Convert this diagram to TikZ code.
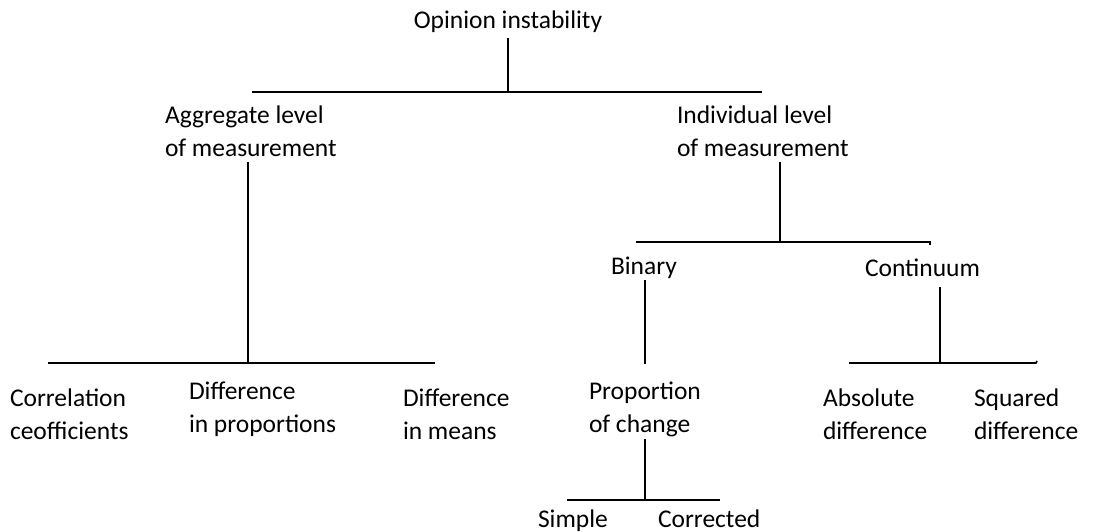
\documentclass[tikz,border=0pt]{standalone}
\usepackage{fontspec}
\setmainfont{Carlito}
\begin{document}
\begin{tikzpicture}[x=1pt,y=-1pt,
  lbl/.style={inner sep=0pt, outer sep=0pt, align=left, anchor=west, font=\fontsize{25.5}{33}\selectfont},
  conn/.style={line width=1.6pt, black}]
\useasboundingbox (0,0) rectangle (1095,532);
% texts
\node[lbl, anchor=center] (root) at (508,22) {Opinion instability};
\node[lbl] (agg) at (165,131) {Aggregate level\\of measurement};
\node[lbl] (ind) at (677,131) {Individual level\\of measurement};
\node[lbl] (corr) at (10,414) {Correlation\\ceofficients};
\node[lbl] (dprop) at (189,409) {Difference\\in proportions};
\node[lbl] (dmean) at (403,414) {Difference\\in means};
\node[lbl] (bin) at (611,268) {Binary};
\node[lbl] (cont) at (865,268) {Continuum};
\node[lbl] (pchg) at (589,409) {Proportion\\of change};
\node[lbl] (absd) at (823,414) {Absolute\\difference};
\node[lbl] (sqd) at (974,414) {Squared\\difference};
\node[lbl, anchor=base west] (simp) at (538,527) {Simple};
\node[lbl, anchor=base west] (corrd) at (658,527) {Corrected};
% junction coordinates
\coordinate (r0) at (508,38);   \coordinate (r1) at (508,92);
\coordinate (rL) at (252,92);   \coordinate (rR) at (762,92);
\coordinate (a0) at (248,162);  \coordinate (a1) at (248,363);
\coordinate (aL) at (48,363);   \coordinate (aR) at (435,363);
\coordinate (i0) at (780,162);  \coordinate (i1) at (780,242);
\coordinate (iL) at (636,242);  \coordinate (iR) at (930,242);
\coordinate (b0) at (645,280);  \coordinate (b1) at (645,364);
\coordinate (c0) at (940,287);  \coordinate (c1) at (940,363);
\coordinate (cL) at (849,363);  \coordinate (cR) at (1036,363);
\coordinate (p0) at (645,439);  \coordinate (p1) at (645,500);
\coordinate (pL) at (567,500);  \coordinate (pR) at (720,500);
% connectors
\draw[conn] (r0) -- (r1);
\draw[conn] (rL) -- (rR);
\draw[conn] (a0) -- (a1);
\draw[conn] (aL) -- (aR);
\draw[conn] (i0) -- (i1);
\draw[conn] (iL) -- (iR) -- ++(0,3);
\draw[conn] (b0) -- (b1);
\draw[conn] (c0) -- (c1);
\draw[conn] (cL) -- (cR) -- ++(1,-2);
\draw[conn] (p0) -- (p1);
\draw[conn] (pL) -- (pR);
\end{tikzpicture}
\end{document}
